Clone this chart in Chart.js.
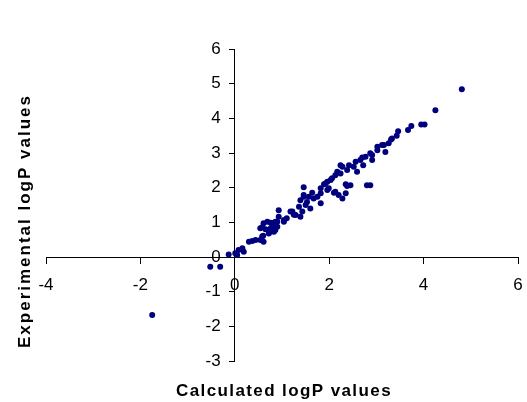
<!DOCTYPE html>
<html>
<head>
<meta charset="utf-8">
<script src="https://cdn.jsdelivr.net/npm/chart.js@4/dist/chart.umd.min.js"></script>
<style>
  html, body { margin: 0; padding: 0; background: #fff; }
  canvas { display: block; }
</style>
</head>
<body>
<canvas id="chart" width="527" height="402"></canvas>
<script>
// calculated logP (x) vs experimental logP (y)
const calcLogP = [
  -1.75, -0.52, -0.31, -0.13, 0.01, 0.08, 0.16, 0.19, 0.05,
  0.30, 0.37, 0.44, 0.54, 0.61, 0.58, 0.60,
  0.54, 0.58, 0.61, 0.65, 0.69, 0.72, 0.76, 0.76, 0.76, 0.83, 0.86, 0.86, 0.90, 0.83, 0.79, 0.90, 0.93, 0.93, 1.04, 1.04,
  1.10, 1.18, 1.22, 1.25, 1.29, 1.39, 1.36, 1.43, 1.39, 1.46, 1.46, 1.46, 1.50, 1.53, 1.57, 1.60, 1.64, 1.67, 1.75,
  1.82, 1.82, 1.82, 1.89, 1.92, 1.96, 1.96, 1.99, 2.03, 2.06, 2.10, 2.13, 2.13, 2.17, 2.20, 2.24, 2.24, 2.28, 2.28,
  2.35, 2.35, 2.38, 2.38, 2.42, 2.45, 2.52, 2.56, 2.59, 2.66, 2.70, 2.72, 2.77, 2.80, 2.87, 2.87, 2.91, 2.91,
  3.02, 3.02, 3.12, 3.16, 3.19, 3.26, 3.31, 3.33, 3.43, 3.46, 3.67, 3.74, 3.95, 4.02, 4.25, 4.81
];
const expLogP = [
  -1.67, -0.28, -0.28, 0.07, 0.11, 0.20, 0.25, 0.15, 0.06,
  0.44, 0.46, 0.49, 0.49, 0.44, 0.59, 0.61,
  0.83, 0.86, 0.97, 0.80, 1.02, 0.68, 0.73, 0.83, 0.99, 0.73, 0.78, 1.02, 0.87, 0.87, 0.97, 1.02, 1.16, 1.35, 1.02, 1.07,
  1.12, 1.31, 1.31, 1.22, 1.21, 1.16, 1.45, 1.31, 1.64, 1.74, 1.79, 2.01, 1.50, 1.59, 1.74, 1.40, 1.85, 1.69, 1.74,
  1.84, 1.55, 1.98, 2.10, 2.12, 1.93, 2.17, 1.98, 2.22, 2.27, 1.85, 1.88, 2.36, 2.46, 1.79, 2.41, 2.65, 2.60, 1.69,
  1.84, 2.10, 2.51, 2.05, 2.65, 2.07, 2.60, 2.75, 2.46, 2.80, 2.87, 2.65, 2.89, 2.07, 2.99, 2.07, 2.94, 2.80,
  3.08, 3.18, 3.23, 3.23, 3.03, 3.28, 3.39, 3.42, 3.50, 3.63, 3.66, 3.78, 3.82, 3.82, 4.23, 4.84
];

const xTicks = [-4, -2, 0, 2, 4, 6];
const yTicks = [-3, -2, -1, 0, 1, 2, 3, 4, 5, 6];

const xTitle = "Calculated logP values";
const yTitle = "Experimental logP values";

Chart.defaults.font.family = 'Arial, "Liberation Sans", sans-serif';
Chart.defaults.color = "#000";

// axis titles sit away from the crossing axes, so draw them by hand
const axisTitles = {
  id: "axisTitles",
  afterDraw(chart) {
    const ctx = chart.ctx;
    ctx.save();
    ctx.fillStyle = "#000";
    ctx.font = 'bold 17px Arial, "Liberation Sans", sans-serif';
    ctx.textAlign = "center";
    ctx.textBaseline = "middle";
    ctx.letterSpacing = "1.4px";
    ctx.fillText(xTitle, 284, 391);
    ctx.letterSpacing = "2px";
    ctx.translate(25, 221);
    ctx.rotate(-Math.PI / 2);
    ctx.fillText(yTitle, 0, 0);
    ctx.restore();
  },
};

const axisLook = {
  border: { display: true, color: "#000", width: 1 },
  grid: { drawOnChartArea: false, drawTicks: true, color: "#000", tickLength: 5 },
};

new Chart(document.getElementById("chart"), {
  type: "scatter",
  data: {
    datasets: [
      {
        data: calcLogP.map((x, i) => ({ x: x, y: expLogP[i] })),
        backgroundColor: "#00007f",
        borderColor: "#00007f",
        borderWidth: 0,
        pointRadius: 3,
      },
    ],
  },
  options: {
    responsive: false,
    animation: false,
    layout: { padding: { left: 46, right: 9, top: 49, bottom: 41 } },
    plugins: { legend: { display: false }, tooltip: { enabled: false } },
    scales: {
      x: {
        type: "linear",
        min: xTicks[0],
        max: xTicks[xTicks.length - 1],
        position: { y: 0 },
        afterBuildTicks: (s) => { s.ticks = xTicks.map((v) => ({ value: v })); },
        // tall line height pushes the labels down without adding side padding
        ticks: { font: { size: 17, lineHeight: 2.38 }, padding: 2, maxRotation: 0 },
        ...axisLook,
        grid: { ...axisLook.grid, tickLength: 6 },
      },
      y: {
        type: "linear",
        min: yTicks[0],
        max: yTicks[yTicks.length - 1],
        position: { x: 0 },
        afterBuildTicks: (s) => { s.ticks = yTicks.map((v) => ({ value: v })); },
        // labels are right-aligned on the axis itself, trailing spaces give the gap
        ticks: { font: { size: 17 }, padding: 8, callback: (v) => v + "   " },
        ...axisLook,
      },
    },
  },
  plugins: [axisTitles],
});
</script>
</body>
</html>
